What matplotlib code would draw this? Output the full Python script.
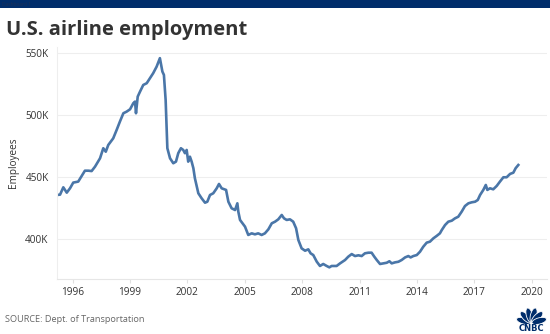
import matplotlib
matplotlib.use("Agg")
import matplotlib.pyplot as plt
from matplotlib.patches import Ellipse, Rectangle
import numpy as np

# ---- data (decimal year, thousands of employees) ----
years = [1995.16, 1995.34, 1995.51, 1995.69, 1995.86, 1996.03, 1996.29, 1996.64, 1996.82, 1996.99,
         1997.17, 1997.43, 1997.60, 1997.73, 1997.86, 1998.12, 1998.30, 1998.47, 1998.65, 1998.82,
         1999.00, 1999.17, 1999.26, 1999.31, 1999.40, 1999.52, 1999.69, 1999.87, 2000.04, 2000.21,
         2000.39, 2000.56, 2000.69, 2000.77, 2000.86, 2000.95, 2001.09, 2001.26, 2001.40, 2001.52,
         2001.66, 2001.78, 2001.87, 2001.96, 2002.04, 2002.13, 2002.22, 2002.31, 2002.39, 2002.57,
         2002.74, 2002.92, 2003.04, 2003.18, 2003.35, 2003.53, 2003.65, 2003.79, 2004.02, 2004.14,
         2004.31, 2004.49, 2004.61, 2004.66, 2004.75, 2005.01, 2005.18, 2005.36, 2005.53, 2005.70,
         2005.88, 2006.05, 2006.23, 2006.41, 2006.58, 2006.75, 2006.93, 2007.05, 2007.19, 2007.36,
         2007.53, 2007.68, 2007.80, 2007.97, 2008.15, 2008.32, 2008.44, 2008.58, 2008.76, 2008.93,
         2009.10, 2009.28, 2009.42, 2009.54, 2009.80, 2009.98, 2010.24, 2010.41, 2010.59, 2010.76,
         2010.94, 2011.11, 2011.28, 2011.46, 2011.63, 2011.77, 2011.90, 2012.07, 2012.24, 2012.42,
         2012.56, 2012.68, 2012.85, 2013.03, 2013.20, 2013.38, 2013.55, 2013.67, 2013.81, 2013.99,
         2014.16, 2014.33, 2014.51, 2014.68, 2014.86, 2015.03, 2015.20, 2015.30, 2015.47, 2015.64,
         2015.82, 2015.99, 2016.16, 2016.34, 2016.51, 2016.69, 2016.86, 2017.04, 2017.18, 2017.30,
         2017.47, 2017.60, 2017.68, 2017.82, 2017.99, 2018.17, 2018.34, 2018.52, 2018.69, 2018.87,
         2019.04, 2019.16, 2019.30]
employees_k = [435.7, 436.0, 441.9, 437.6, 441.1, 445.7, 446.5, 455.3, 455.3, 455.0,
               458.6, 465.3, 473.4, 470.6, 476.0, 481.4, 488.2, 494.9, 501.6, 502.9,
               504.8, 509.7, 511.0, 501.6, 515.0, 519.0, 524.4, 525.8, 529.8, 533.9,
               539.2, 546.0, 535.2, 532.5, 512.3, 473.4, 465.3, 461.3, 462.6, 469.4,
               473.4, 472.0, 469.4, 472.0, 462.6, 466.6, 462.6, 457.3, 449.2, 437.1,
               433.1, 429.5, 430.3, 435.7, 437.1, 441.1, 444.6, 441.1, 439.8, 430.3,
               425.0, 423.6, 429.0, 422.3, 415.6, 410.2, 403.5, 404.8, 404.0, 404.8,
               403.5, 404.8, 408.0, 412.9, 414.2, 416.1, 419.6, 416.9, 415.6, 416.1,
               414.2, 408.9, 399.4, 392.7, 390.8, 391.9, 388.7, 387.3, 382.0, 378.5,
               380.1, 378.5, 377.4, 378.5, 378.5, 380.6, 383.3, 386.0, 388.1, 386.5,
               387.1, 386.5, 388.7, 389.2, 389.2, 386.0, 383.3, 380.1, 380.6, 381.1,
               382.3, 380.6, 381.4, 381.9, 383.3, 385.4, 386.5, 385.4, 386.5, 387.3,
               390.0, 394.0, 397.3, 398.1, 400.8, 402.7, 404.8, 407.5, 411.5, 414.2,
               415.0, 416.9, 418.2, 422.3, 426.8, 429.0, 429.8, 430.3, 431.7, 435.7,
               439.8, 443.8, 439.8, 441.1, 440.3, 443.0, 446.5, 450.0, 450.0, 452.7,
               453.7, 457.3, 459.9]

x_ticks = [1996, 1999, 2002, 2005, 2008, 2011, 2014, 2017, 2020]
y_ticks = [400, 450, 500, 550]
y_tick_labels = ["400K", "450K", "500K", "550K"]

FONT = "Open Sans"
plt.rcParams["font.family"] = [FONT, "DejaVu Sans"]

W, H = 550, 334
fig = plt.figure(figsize=(W / 100, H / 100), dpi=100)
fig.patch.set_facecolor("white")

# overlay axes in pixel coordinates for decoration
deco = fig.add_axes([0, 0, 1, 1])
deco.set_xlim(0, W)
deco.set_ylim(H, 0)
deco.axis("off")
deco.add_patch(Rectangle((0, 0), W, 8, color="#002D6B", lw=0))
deco.text(2, 4, "Dashboard 1", fontsize=3.5, color="#1B2F55", va="center", ha="left")

# CNBC logo (simplified peacock)
cx, cy = 531.5, 323.0
for ang in [165, 135, 105, 75, 45, 15]:
    a = np.deg2rad(ang)
    ex = cx + 8.0 * np.cos(a)
    ey = cy - 8.0 * np.sin(a)
    deco.add_patch(Ellipse((ex, ey), 15, 6.2, angle=-ang, facecolor="#002D6B",
                           edgecolor="white", lw=0.6))
deco.text(cx, 328.5, "CNBC", fontsize=6, fontweight="black", color="#002D6B",
          ha="center", va="center", family="DejaVu Sans")

ax = fig.add_axes([57 / W, 1 - 279 / H, (547 - 57) / W, (279 - 47) / H])
ax.plot(years, employees_k, color="#4A76A8", lw=1.9, solid_joinstyle="round")
ax.set_xlim(1995.18, 2020.80)
ax.set_ylim(368, 555)
ax.set_yticks(y_ticks)
ax.set_yticklabels(y_tick_labels)
ax.set_xticks(x_ticks)
ax.set_xticklabels([str(t) for t in x_ticks])
ax.grid(axis="y", color="#EEEEEE", lw=0.8)
ax.set_axisbelow(True)
for s in ["top", "right"]:
    ax.spines[s].set_visible(False)
ax.spines["left"].set_color("#EEEEEE")
ax.spines["bottom"].set_color("#E6E6E6")
ax.tick_params(axis="y", length=0, pad=6, labelsize=7.2, labelcolor="#333333")
ax.tick_params(axis="x", length=3, color="#E0E0E0", pad=3, labelsize=7.2, labelcolor="#333333")

fig.text(6 / W, 1 - 35 / H, "U.S. airline employment", fontsize=14.5, fontweight="bold",
         color="#333333", ha="left", va="baseline")
fig.text(13 / W, 1 - 163 / H, "Employees", fontsize=7.2, color="#333333", rotation=90,
         ha="center", va="center")
fig.text(5 / W, 1 - 320 / H, "SOURCE: Dept. of Transportation", fontsize=6.6, color="#666666",
         ha="left", va="center")

fig.savefig("out.png", dpi=100, facecolor="white")
